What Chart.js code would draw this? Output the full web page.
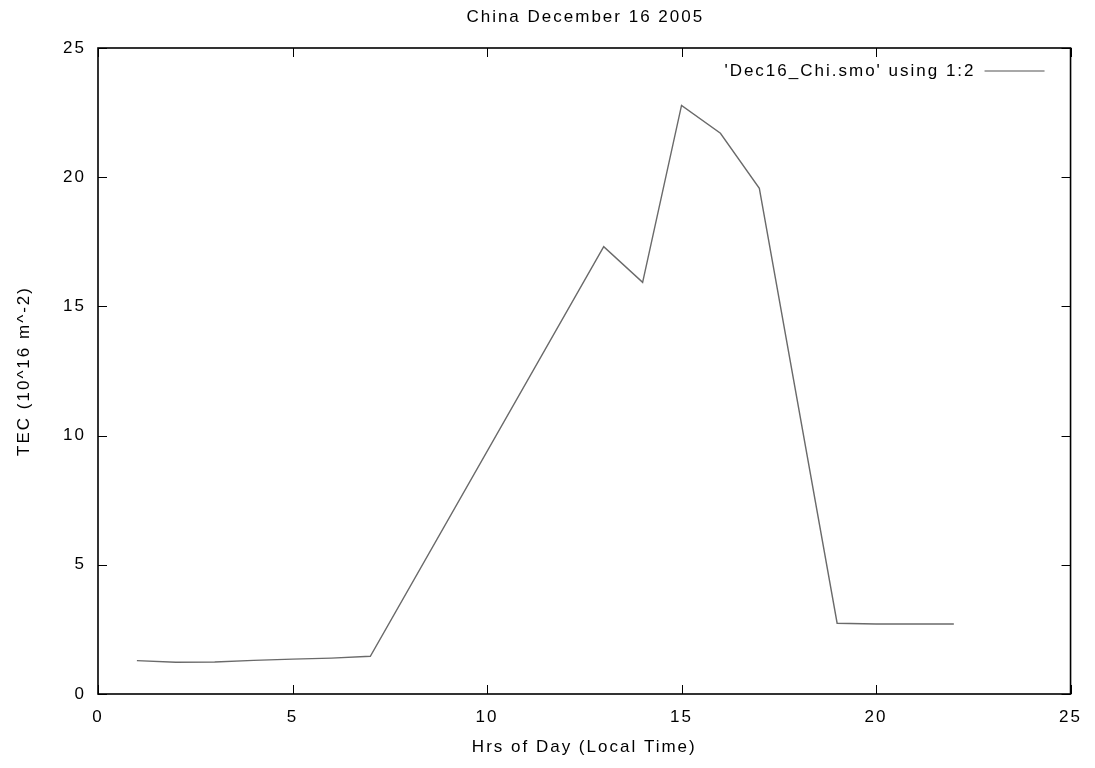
<!DOCTYPE html>
<html>
<head>
<meta charset="utf-8">
<title>China December 16 2005</title>
<script src="https://cdn.jsdelivr.net/npm/chart.js@4/dist/chart.umd.min.js"></script>
<style>
  html, body { margin: 0; padding: 0; background: #ffffff; }
  #wrap { width: 1095px; height: 768px; position: relative; }
</style>
</head>
<body>
<div id="wrap"><canvas id="tec"></canvas></div>
<script>
// Hour of day (local time) and total electron content
const hours = [1, 2, 3, 4, 5, 6, 7, 13, 14, 15, 16, 17, 19, 20, 21, 22];
const tecValues = [1.29, 1.23, 1.24, 1.30, 1.35, 1.39, 1.46, 17.31, 15.93, 22.78, 21.70, 19.57, 2.74, 2.71, 2.71, 2.71];
const seriesLabel = "'Dec16_Chi.smo' using 1:2";
const chartTitle = 'China December 16 2005';
const xAxisTitle = 'Hrs of Day (Local Time)';
const yAxisTitle = 'TEC (10^16 m^-2)';
const axisMin = 0;
const axisMax = 25;
const tickStep = 5;

const FONT = "'Liberation Sans', Arial, Helvetica, sans-serif";
const FONT_SIZE = 17;
const SPACING = '2px';

// wide letter spacing for all canvas text
const spacingPlugin = {
  id: 'spacing',
  beforeUpdate(chart) { chart.ctx.letterSpacing = SPACING; },
  beforeLayout(chart) { chart.ctx.letterSpacing = SPACING; },
  beforeDraw(chart) { chart.ctx.letterSpacing = SPACING; }
};

// title centred over the plot area
const headingPlugin = {
  id: 'heading',
  afterDraw(chart) {
    const { ctx, chartArea: a } = chart;
    ctx.save();
    ctx.letterSpacing = SPACING;
    ctx.font = FONT_SIZE + 'px ' + FONT;
    ctx.fillStyle = '#000';
    ctx.textAlign = 'center';
    ctx.textBaseline = 'middle';
    ctx.fillText(chartTitle, (a.left + a.right) / 2 + 1, 17);
    ctx.restore();
  }
};

// frame around the plot with inward ticks on all four sides
const framePlugin = {
  id: 'frame',
  afterDatasetsDraw(chart) {
    const { ctx, chartArea: a, scales } = chart;
    const len = 9;
    ctx.save();
    ctx.strokeStyle = '#000';
    ctx.lineWidth = 1;
    ctx.beginPath();
    scales.x.ticks.forEach(t => {
      const px = Math.round(scales.x.getPixelForValue(t.value)) + 0.5;
      ctx.moveTo(px, a.bottom); ctx.lineTo(px, a.bottom - len);
      ctx.moveTo(px, a.top); ctx.lineTo(px, a.top + len);
    });
    scales.y.ticks.forEach(t => {
      const py = Math.round(scales.y.getPixelForValue(t.value)) + 0.5;
      ctx.moveTo(a.left, py); ctx.lineTo(a.left + len, py);
      ctx.moveTo(a.right, py); ctx.lineTo(a.right - len, py);
    });
    ctx.stroke();
    ctx.lineWidth = 1.6;
    ctx.strokeRect(a.left, a.top, a.right - a.left, a.bottom - a.top);
    ctx.restore();
  }
};

// key in the upper right: label text followed by a line sample
const keyPlugin = {
  id: 'key',
  afterDraw(chart) {
    const { ctx, chartArea: a } = chart;
    const ds = chart.data.datasets[0];
    const y = a.top + 23;
    const lineEnd = a.right - 26;
    const lineStart = lineEnd - 60;
    ctx.save();
    ctx.letterSpacing = SPACING;
    ctx.font = FONT_SIZE + 'px ' + FONT;
    ctx.fillStyle = '#000';
    ctx.textAlign = 'right';
    ctx.textBaseline = 'middle';
    ctx.fillText(ds.label, lineStart - 9, y);
    ctx.strokeStyle = '#a8a8a8';
    ctx.lineWidth = 2;
    ctx.beginPath();
    ctx.moveTo(lineStart, y);
    ctx.lineTo(lineEnd, y);
    ctx.stroke();
    ctx.restore();
  }
};

Chart.defaults.font.family = FONT;
Chart.defaults.font.size = FONT_SIZE;
Chart.defaults.color = '#000';

new Chart(document.getElementById('tec'), {
  type: 'scatter',
  data: {
    datasets: [{
      label: seriesLabel,
      data: hours.map((h, i) => ({ x: h, y: tecValues[i] })),
      showLine: true,
      borderColor: '#6a6a6a',
      borderWidth: 1.4,
      pointRadius: 0,
      pointHoverRadius: 0,
      fill: false,
      tension: 0
    }]
  },
  options: {
    responsive: true,
    maintainAspectRatio: false,
    animation: false,
    events: [],
    layout: { padding: { left: 0, right: 24, top: 48, bottom: 0 } },
    plugins: {
      legend: { display: false },
      tooltip: { enabled: false },
      title: { display: false }
    },
    scales: {
      x: {
        type: 'linear',
        min: axisMin,
        max: axisMax,
        grid: { display: false, drawTicks: false },
        border: { display: false },
        ticks: { stepSize: tickStep, padding: 13, maxRotation: 0, color: '#000' },
        title: {
          display: true,
          text: xAxisTitle,
          color: '#000',
          font: { size: FONT_SIZE, family: FONT },
          padding: { top: 0, bottom: 10 }
        },
        afterFit(scale) { scale.height = 74; }
      },
      y: {
        type: 'linear',
        min: axisMin,
        max: axisMax,
        grid: { display: false, drawTicks: false },
        border: { display: false },
        ticks: { stepSize: tickStep, padding: 12, color: '#000' },
        title: {
          display: true,
          text: yAxisTitle,
          color: '#000',
          font: { size: FONT_SIZE, family: FONT },
          padding: { top: 14, bottom: 0 }
        },
        afterFit(scale) { scale.width = 98; }
      }
    }
  },
  plugins: [spacingPlugin, framePlugin, keyPlugin, headingPlugin]
});
</script>
</body>
</html>
